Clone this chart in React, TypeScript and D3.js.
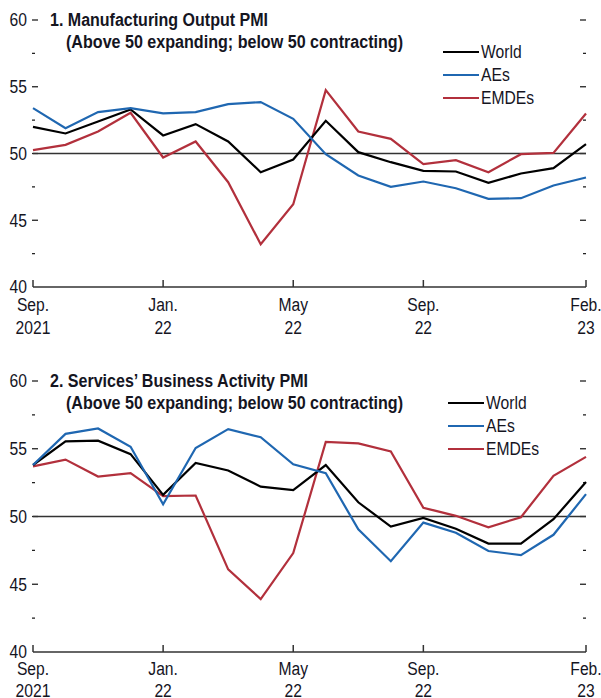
import React from "react";
import * as d3 from "d3";

// monthly points, Sep 2021 .. Feb 2023
const months = [
  "2021-09", "2021-10", "2021-11", "2021-12", "2022-01", "2022-02",
  "2022-03", "2022-04", "2022-05", "2022-06", "2022-07", "2022-08",
  "2022-09", "2022-10", "2022-11", "2022-12", "2023-01", "2023-02",
];
const tickIndex = [0, 4, 8, 12, 17];
const tickTop = ["Sep.", "Jan.", "May", "Sep.", "Feb."];
const tickBottom = ["2021", "22", "22", "22", "23"];
const yTicks = [40, 45, 50, 55, 60];
const yMinor = [42.5, 47.5, 52.5, 57.5];

const seriesNames = ["World", "AEs", "EMDEs"];
const seriesColors = ["#000000", "#1f67b1", "#b2303c"];

// 1. Manufacturing output PMI
const mfgWorld = [52.0, 51.5, 52.4, 53.3, 51.35, 52.2, 50.9, 48.6, 49.55, 52.45, 50.1, 49.35, 48.7, 48.65, 47.8, 48.5, 48.9, 50.7];
const mfgAEs = [53.4, 51.9, 53.1, 53.4, 53.0, 53.1, 53.7, 53.85, 52.6, 49.95, 48.35, 47.5, 47.9, 47.4, 46.6, 46.65, 47.6, 48.2];
const mfgEMDEs = [50.25, 50.65, 51.65, 53.05, 49.7, 50.9, 47.85, 43.2, 46.2, 54.75, 51.65, 51.1, 49.2, 49.5, 48.6, 49.95, 50.05, 53.0];

// 2. Services business activity PMI
const svcWorld = [53.8, 55.55, 55.6, 54.6, 51.6, 53.95, 53.4, 52.2, 51.95, 53.8, 51.05, 49.25, 49.9, 49.1, 48.0, 48.0, 49.8, 52.55];
const svcAEs = [53.8, 56.1, 56.5, 55.15, 50.9, 55.05, 56.45, 55.85, 53.85, 53.2, 49.05, 46.7, 49.55, 48.8, 47.45, 47.15, 48.65, 51.65];
const svcEMDEs = [53.7, 54.2, 52.95, 53.2, 51.5, 51.55, 46.1, 43.9, 47.3, 55.5, 55.4, 54.8, 50.65, 50.05, 49.2, 49.95, 53.0, 54.4];

const subtitle = "(Above 50 expanding; below 50 contracting)";

const FONT = "'Liberation Sans', Arial, sans-serif";
const TEXT = "#15151f";
const SQUEEZE = 0.87;

// condensed-looking text: regular font squeezed horizontally
const T = ({ x, y, anchor = "start", dy, bold, len, children }: any) => (
  <text
    transform={`translate(${x},${y}) scale(${SQUEEZE},1)`}
    textAnchor={anchor}
    dy={dy}
    fontSize={18}
    fontWeight={bold ? "bold" : "normal"}
    textLength={len ? len / SQUEEZE : undefined}
    lengthAdjust={len ? "spacingAndGlyphs" : undefined}
  >
    {children}
  </text>
);

type PanelProps = {
  title: string;
  titleLen: number;
  series: number[][];
  top: number;
  bottom: number;
  labelGap: number[];
  legendX: number;
  legendY: number;
};

const Panel = ({ title, titleLen, series, top, bottom, labelGap, legendX, legendY }: PanelProps) => {
  const x = d3.scaleLinear().domain([0, months.length - 1]).range([33, 586]);
  const y = d3.scaleLinear().domain([40, 60]).range([bottom, top]);
  const line = d3
    .line<number>()
    .x((_, i) => x(i))
    .y((d) => y(d));
  const order = [2, 0, 1];

  return (
    <g fontFamily={FONT} fill={TEXT}>
      {/* y axis labels and ticks on both sides */}
      {yTicks.map((t) => (
        <g key={t}>
          <T x={27} y={y(t)} dy="0.36em" anchor="end">
            {t}
          </T>
          {t > 40 && (
            <>
              <line x1={32} x2={38} y1={y(t)} y2={y(t)} stroke="#222" strokeWidth={1.3} />
              <line x1={580} x2={586} y1={y(t)} y2={y(t)} stroke="#222" strokeWidth={1.3} />
            </>
          )}
        </g>
      ))}
      {yMinor.map((t) => (
        <g key={t}>
          <line x1={32} x2={35} y1={y(t)} y2={y(t)} stroke="#222" strokeWidth={1.3} />
          <line x1={583} x2={586} y1={y(t)} y2={y(t)} stroke="#222" strokeWidth={1.3} />
        </g>
      ))}

      {/* x axis */}
      <line x1={x(0)} x2={x(17)} y1={bottom} y2={bottom} stroke="#333" strokeWidth={1.5} />
      {tickIndex.map((ti, k) => (
        <g key={ti}>
          <line x1={x(ti)} x2={x(ti)} y1={bottom} y2={bottom - 7} stroke="#333" strokeWidth={1.5} />
          <T x={x(ti)} y={bottom + labelGap[0]} anchor="middle">
            {tickTop[k]}
          </T>
          <T x={x(ti)} y={bottom + labelGap[1]} anchor="middle">
            {tickBottom[k]}
          </T>
        </g>
      ))}

      {/* 50 reference line */}
      <line x1={x(0)} x2={x(17)} y1={y(50)} y2={y(50)} stroke="#333" strokeWidth={1.3} />

      {order.map((s) => (
        <path
          key={s}
          d={line(series[s]) || ""}
          fill="none"
          stroke={seriesColors[s]}
          strokeWidth={2.2}
          strokeLinejoin="miter"
        />
      ))}

      {/* title */}
      <T x={50} y={top + 6} bold len={titleLen}>
        {title}
      </T>
      <T x={66} y={top + 28} bold len={337}>
        {subtitle}
      </T>

      {/* legend */}
      {seriesNames.map((n, i) => (
        <g key={n}>
          <line
            x1={legendX}
            x2={legendX + 36}
            y1={legendY + i * 23}
            y2={legendY + i * 23}
            stroke={seriesColors[i]}
            strokeWidth={2.2}
          />
          <T x={legendX + 38} y={legendY + i * 23} dy="0.36em">
            {n}
          </T>
        </g>
      ))}
    </g>
  );
};

export default function App() {
  return (
    <svg
      width={601}
      height={698}
      style={{ position: "absolute", left: 0, top: 0, background: "#fff" }}
    >
      <Panel
        title="1. Manufacturing Output PMI"
        titleLen={218}
        series={[mfgWorld, mfgAEs, mfgEMDEs]}
        top={20}
        bottom={287}
        labelGap={[24, 47]}
        legendX={443}
        legendY={52}
      />
      <Panel
        title="2. Services’ Business Activity PMI"
        titleLen={258}
        series={[svcWorld, svcAEs, svcEMDEs]}
        top={381}
        bottom={652}
        labelGap={[23, 45]}
        legendX={448}
        legendY={403}
      />
    </svg>
  );
}
